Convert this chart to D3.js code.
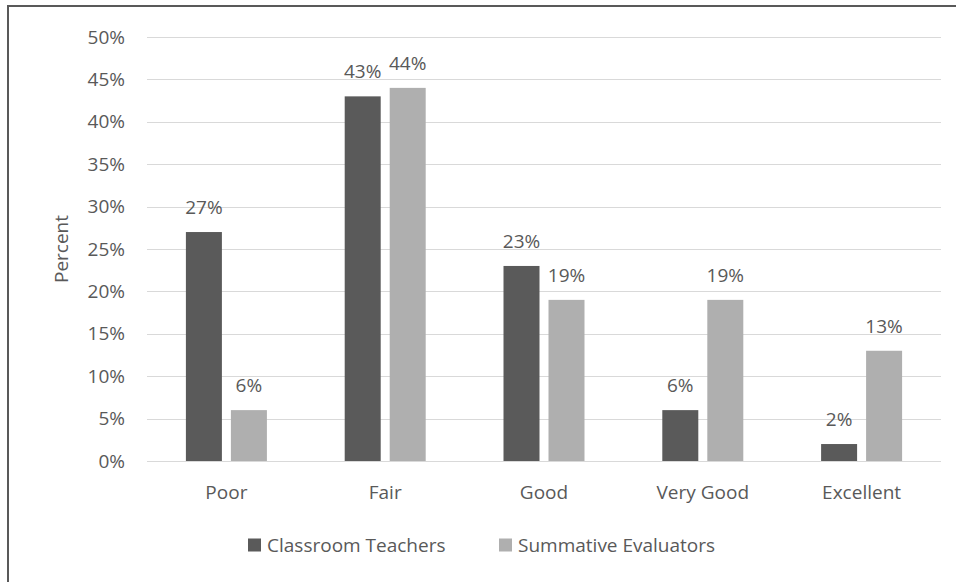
<!DOCTYPE html>
<html>
<head>
<meta charset="utf-8">
<script src="https://cdn.jsdelivr.net/npm/d3@7"></script>
<style>
    body { margin: 0; background: #fff; }
    svg { display: block; font-family: "Open Sans", "Noto Sans", sans-serif; }
</style>
</head>
<body>
<svg width="956" height="582"></svg>
<script>
const categories = ["Poor", "Fair", "Good", "Very Good", "Excellent"];
const seriesNames = ["Classroom Teachers", "Summative Evaluators"];
const teachers = [27, 43, 23, 6, 2];
const evaluators = [6, 44, 19, 19, 13];
const yTicks = [0, 5, 10, 15, 20, 25, 30, 35, 40, 45, 50];

const colors = ["#5a5a5a", "#afafaf"];
const textColor = "#595959";
const fontSize = 19;

const svg = d3.select("svg");

// chart border (only top and left visible in the frame)
svg.append("rect")
    .attr("x", 8)
    .attr("y", 6)
    .attr("width", 980)
    .attr("height", 600)
    .attr("fill", "none")
    .attr("stroke", "#595959")
    .attr("stroke-width", 2);

const plotLeft = 147, plotRight = 941, plotTop = 37, plotBottom = 461;

const x = d3.scaleBand()
    .domain(categories)
    .range([plotLeft, plotRight]);
const x1 = d3.scaleBand()
    .domain(seriesNames)
    .range([x.bandwidth() / 2 - 40.5, x.bandwidth() / 2 + 40.5])
    .paddingInner(0.2);
const y = d3.scaleLinear()
    .domain([0, 50])
    .range([plotBottom, plotTop]);

// gridlines
svg.append("g")
    .selectAll("line")
    .data(yTicks)
    .join("line")
    .attr("x1", plotLeft)
    .attr("x2", plotRight)
    .attr("y1", d => Math.round(y(d)) + 0.5)
    .attr("y2", d => Math.round(y(d)) + 0.5)
    .attr("stroke", "#d9d9d9")
    .attr("stroke-width", 1);

// y axis labels
svg.append("g")
    .selectAll("text")
    .data(yTicks)
    .join("text")
    .attr("x", 125)
    .attr("y", d => y(d))
    .attr("dy", "0.35em")
    .attr("text-anchor", "end")
    .attr("fill", textColor)
    .attr("font-size", fontSize)
    .text(d => d + "%");

svg.append("text")
    .attr("transform", "translate(68," + ((plotTop + plotBottom) / 2) + ") rotate(-90)")
    .attr("text-anchor", "middle")
    .attr("fill", textColor)
    .attr("font-size", fontSize)
    .text("Percent");

// bars
const rows = categories.map((c, i) => ({
    name: c,
    values: [teachers[i], evaluators[i]]
}));

const groups = svg.append("g")
    .selectAll("g")
    .data(rows)
    .join("g")
    .attr("transform", d => "translate(" + x(d.name) + ",0)");

groups.selectAll("rect")
    .data(d => d.values.map((v, j) => ({series: seriesNames[j], value: v, idx: j})))
    .join("rect")
    .attr("x", d => x1(d.series))
    .attr("y", d => y(d.value))
    .attr("width", x1.bandwidth())
    .attr("height", d => y(0) - y(d.value))
    .attr("fill", d => colors[d.idx]);

groups.selectAll("text")
    .data(d => d.values.map((v, j) => ({series: seriesNames[j], value: v})))
    .join("text")
    .attr("x", d => x1(d.series) + x1.bandwidth() / 2)
    .attr("y", d => y(d.value) - 18)
    .attr("text-anchor", "middle")
    .attr("fill", textColor)
    .attr("font-size", fontSize)
    .text(d => d.value + "%");

// category labels
svg.append("g")
    .selectAll("text")
    .data(categories)
    .join("text")
    .attr("x", d => x(d) + x.bandwidth() / 2)
    .attr("y", 492)
    .attr("dy", "0.35em")
    .attr("text-anchor", "middle")
    .attr("fill", textColor)
    .attr("font-size", fontSize)
    .text(d => d);

// legend
const legendX = [248, 499];
const legend = svg.append("g")
    .selectAll("g")
    .data(seriesNames)
    .join("g")
    .attr("transform", (d, i) => "translate(" + legendX[i] + ",545)");
legend.append("rect")
    .attr("x", 0)
    .attr("y", -6.5)
    .attr("width", 13)
    .attr("height", 13)
    .attr("fill", (d, i) => colors[i]);
legend.append("text")
    .attr("x", 19)
    .attr("dy", "0.35em")
    .attr("fill", textColor)
    .attr("font-size", fontSize)
    .text(d => d);
</script>
</body>
</html>
